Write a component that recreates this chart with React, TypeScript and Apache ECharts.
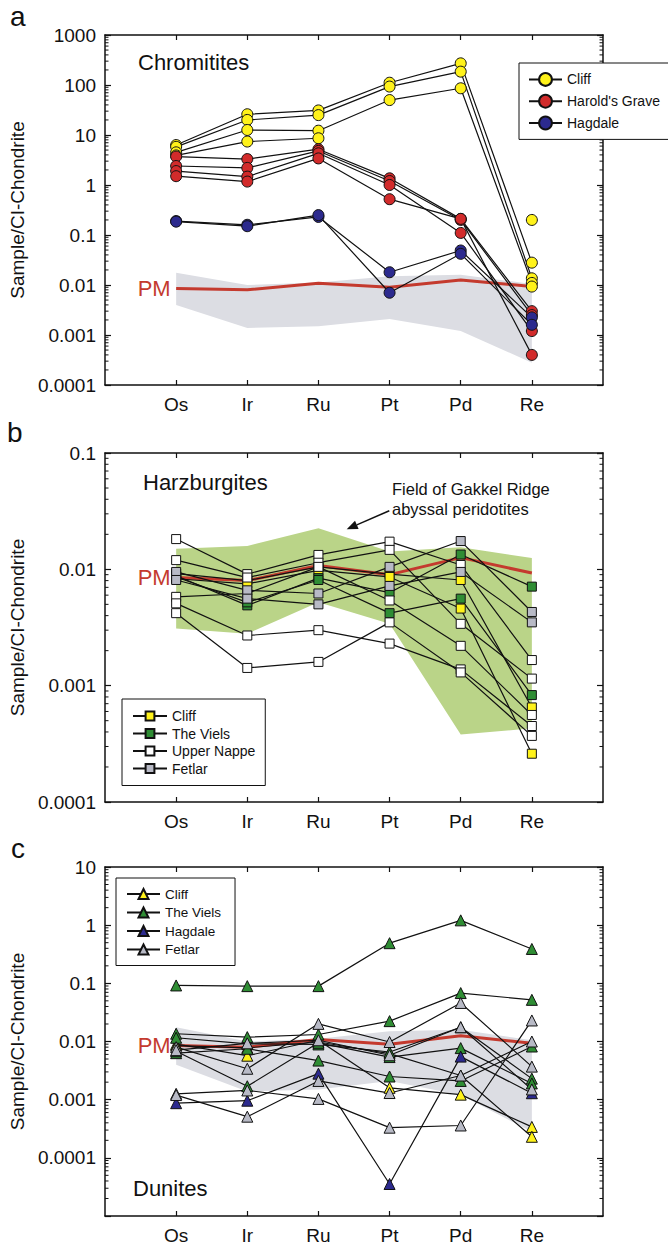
import React, { useEffect, useRef } from "react";
import * as echarts from "echarts";

// ---------- data ----------
const elements = ["Os", "Ir", "Ru", "Pt", "Pd", "Re"];
const elementPositions = [1, 2, 3, 4, 5, 6];

const pmValues = [0.0085, 0.008, 0.0108, 0.009, 0.0126, 0.0093];
const pmFieldUpper = [0.0175, 0.0100, 0.0112, 0.0150, 0.0160, 0.0105];
const pmFieldLower = [0.0040, 0.00138, 0.0015, 0.0021, 0.0012, 0.00028];
const gakkelUpper = [0.015, 0.0159, 0.0225, 0.0142, 0.0155, 0.0125];
const gakkelLower = [0.0031, 0.0028, 0.0052, 0.0034, 0.00038, 0.00043];

const tickLabelsA = ["0.0001", "0.001", "0.01", "0.1", "1", "10", "100", "1000"];
const tickLabelsB = ["0.0001", "0.001", "0.01", "0.1"];
const tickLabelsC = ["", "0.0001", "0.001", "0.01", "0.1", "1", "10"];
const minorMultipliers = [2, 3, 4, 5, 6, 7, 8, 9];

// Chromitites
const chromCliff = [
  [6.3, 26, 31, 111, 271, 0.028],
  [5.8, 20, 25, 93, 185, 0.0136],
  [4.5, 12.6, 12.2, 50, 86, 0.011],
  [3.9, 7.4, 8.6, null, null, 0.0093],
  [null, null, null, null, null, 0.2],
];
const chromHarolds = [
  [3.7, 3.3, 5.2, 1.36, 0.21, 0.003],
  [2.4, 2.2, 4.8, 1.2, 0.2, 0.0025],
  [1.9, 1.47, 4.3, 1.0, 0.11, 0.0012],
  [1.5, 1.17, 3.4, 0.52, 0.21, 0.0004],
];
const chromHagdale = [
  [0.19, 0.16, 0.23, 0.018, 0.049, 0.00225],
  [0.185, 0.15, 0.25, 0.007, 0.042, 0.0016],
];

// Harzburgites
const harzCliff = [
  [0.0092, 0.008, 0.0105, 0.0091, 0.0081, 0.00065],
  [0.0083, 0.0075, 0.0098, 0.0086, 0.0046, 0.00026],
];
const harzViels = [
  [0.0088, 0.0049, 0.0084, 0.0063, 0.0134, 0.0071],
  [0.0086, 0.0052, 0.0081, 0.0042, 0.0056, 0.00083],
];
const harzUpperNappe = [
  [0.0182, 0.0091, 0.0133, 0.0173, 0.0109, 0.00166],
  [0.012, 0.0085, 0.0114, 0.0147, 0.0034, 0.00115],
  [0.0058, 0.0062, 0.0105, 0.0054, 0.0022, 0.00056],
  [0.0051, 0.0027, 0.003, 0.0023, 0.00138, 0.00045],
  [0.0042, 0.00142, 0.0016, 0.0035, 0.0013, 0.00037],
];
const harzFetlar = [
  [0.0095, 0.0066, 0.0062, 0.0105, 0.0175, 0.0043],
  [0.0081, 0.0056, 0.005, 0.0072, 0.0095, 0.0035],
];

// Dunites
const dunCliff = [
  [0.009, 0.0057, 0.0105, 0.0016, 0.00122, 0.00034],
  [0.0085, 0.0078, 0.0098, 0.0062, 0.0026, 0.00023],
];
const dunViels = [
  [0.092, 0.0895, 0.0895, 0.49, 1.21, 0.39],
  [0.0136, 0.0119, 0.0132, 0.0224, 0.068, 0.052],
  [0.0116, 0.0091, 0.0089, 0.0066, 0.0176, 0.0023],
  [0.0063, 0.0075, 0.0047, 0.0025, 0.0021, 0.0082],
  [0.0068, 0.0017, 0.0095, 0.0054, 0.0077, 0.0019],
];
const dunHagdale = [[0.00087, 0.00096, 0.0028, 0.0000355, 0.0055, 0.00129]];
const dunFetlar = [
  [0.008, 0.0034, 0.0201, 0.0098, 0.046, 0.0037],
  [0.00126, 0.00144, 0.00103, 0.00033, 0.00036, 0.023],
  [0.0012, 0.00051, 0.0021, 0.0013, 0.0026, 0.01],
  [0.0071, 0.0093, 0.0105, 0.0058, 0.0176, 0.0015],
];

// ---------- styles ----------
const FONT = '"Liberation Sans", Arial, Helvetica, sans-serif';
const C = {
  yellow: "#fff21a",
  red: "#d22b2b",
  blue: "#2c2a8e",
  green: "#2f8d34",
  gray: "#b8bac6",
  white: "#ffffff",
  pm: "#c43a2e",
  pmField: "#dcdde3",
  gakkel: "#bad488",
};

const grids = [
  { left: 104, top: 35, width: 499, height: 350 },
  { left: 104, top: 453, width: 499, height: 349 },
  { left: 104, top: 867, width: 499, height: 349 },
];

const panels = [
  {
    key: "a",
    minExp: -4,
    maxExp: 3,
    labels: tickLabelsA,
    fieldUpper: pmFieldUpper,
    fieldLower: pmFieldLower,
    fieldColor: C.pmField,
    groups: [
      { name: "Cliff", samples: chromCliff, symbol: "circle", size: 11, fill: C.yellow },
      { name: "Harold's Grave", samples: chromHarolds, symbol: "circle", size: 11, fill: C.red },
      { name: "Hagdale", samples: chromHagdale, symbol: "circle", size: 11, fill: C.blue },
    ],
  },
  {
    key: "b",
    minExp: -4,
    maxExp: -1,
    labels: tickLabelsB,
    fieldUpper: gakkelUpper,
    fieldLower: gakkelLower,
    fieldColor: C.gakkel,
    groups: [
      { name: "Cliff", samples: harzCliff, symbol: "rect", size: 9, fill: C.yellow },
      { name: "The Viels", samples: harzViels, symbol: "rect", size: 9, fill: C.green },
      { name: "Upper Nappe", samples: harzUpperNappe, symbol: "rect", size: 9, fill: C.white },
      { name: "Fetlar", samples: harzFetlar, symbol: "rect", size: 9, fill: C.gray },
    ],
  },
  {
    key: "c",
    minExp: -5,
    maxExp: 1,
    labels: tickLabelsC,
    fieldUpper: pmFieldUpper,
    fieldLower: pmFieldLower,
    fieldColor: C.pmField,
    groups: [
      { name: "Cliff", samples: dunCliff, symbol: "triangle", size: 11, fill: C.yellow },
      { name: "The Viels", samples: dunViels, symbol: "triangle", size: 11, fill: C.green },
      { name: "Hagdale", samples: dunHagdale, symbol: "triangle", size: 11, fill: C.blue },
      { name: "Fetlar", samples: dunFetlar, symbol: "triangle", size: 11, fill: C.gray },
    ],
  },
];

const legendLayouts = [
  { left: 519, top: 63, itemHeight: 16, itemGap: 7, itemWidth: 33, fontSize: 14, padding: [9, 10, 9, 9] },
  { left: 122, top: 699, itemHeight: 11, itemGap: 3.5, itemWidth: 34, fontSize: 14, padding: [10, 10, 10, 10] },
  { left: 116, top: 878, itemHeight: 12.5, itemGap: 4.5, itemWidth: 33, fontSize: 13.5, padding: [9, 14, 9, 10] },
];

function buildOption() {
  const xAxis: any[] = [];
  const yAxis: any[] = [];
  const series: any[] = [];
  const legend: any[] = [];

  panels.forEach((p, g) => {
    const axisLineStyle = { color: "#111", width: 1.5 };
    xAxis.push({
      type: "value",
      gridIndex: g,
      min: 0,
      max: 7,
      interval: 1,
      position: "bottom",
      axisLine: { show: true, onZero: false, lineStyle: axisLineStyle },
      axisTick: { show: true, inside: true, length: 5, customValues: elementPositions, lineStyle: { color: "#111", width: 1.2 } },
      axisLabel: {
        show: true,
        customValues: elementPositions,
        formatter: (v: number) => elements[Math.round(v) - 1] ?? "",
        fontSize: 19,
        fontFamily: FONT,
        color: "#111",
        margin: 10,
      },
      splitLine: { show: false },
    });
    xAxis.push({
      type: "value",
      gridIndex: g,
      min: 0,
      max: 7,
      interval: 1,
      position: "top",
      axisLine: { show: true, onZero: false, lineStyle: axisLineStyle },
      axisTick: { show: true, inside: true, length: 5, customValues: elementPositions, lineStyle: { color: "#111", width: 1.2 } },
      axisLabel: { show: false },
      splitLine: { show: false },
    });
    const logCommon = {
      type: "log",
      logBase: 10,
      gridIndex: g,
      min: Math.pow(10, p.minExp),
      max: Math.pow(10, p.maxExp),
      interval: 1,
      splitLine: { show: false },
      axisLine: { show: true, onZero: false, lineStyle: axisLineStyle },
      axisTick: { show: true, inside: true, length: 6, lineStyle: { color: "#111", width: 1.2 } },
      minorTick: { show: false },
    };
    yAxis.push({
      ...logCommon,
      position: "left",
      name: "Sample/CI-Chondrite",
      nameLocation: "middle",
      nameGap: 74,
      nameTextStyle: { fontSize: 19, fontFamily: FONT, color: "#111" },
      axisLabel: {
        fontSize: 19,
        fontFamily: FONT,
        color: "#111",
        margin: 9,
        formatter: (v: number) => p.labels[Math.round(Math.log10(v)) - p.minExp] ?? "",
      },
    });
    yAxis.push({
      ...logCommon,
      position: "right",
      axisLabel: { show: false },
    });

    const xi = g * 2;
    const yi = g * 2;

    // shaded field
    series.push({
      type: "custom",
      xAxisIndex: xi,
      yAxisIndex: yi,
      silent: true,
      z: 1,
      data: [[elementPositions[0], p.fieldUpper[0]]],
      renderItem: (_params: any, api: any) => {
        const pts: number[][] = [];
        elementPositions.forEach((x, i) => pts.push(api.coord([x, p.fieldUpper[i]])));
        for (let i = elementPositions.length - 1; i >= 0; i--) {
          pts.push(api.coord([elementPositions[i], p.fieldLower[i]]));
        }
        return { type: "polygon", shape: { points: pts }, style: { fill: p.fieldColor } };
      },
    });

    // minor log ticks on left and right frame
    const minorVals: number[] = [];
    for (let e = p.minExp; e < p.maxExp; e++) {
      minorMultipliers.forEach((m) => minorVals.push(m * Math.pow(10, e)));
    }
    series.push({
      type: "custom",
      xAxisIndex: xi,
      yAxisIndex: yi,
      silent: true,
      z: 1,
      clip: false,
      data: minorVals.map((v) => [0, v]),
      renderItem: (_params: any, api: any) => {
        const v = api.value(1);
        const l = api.coord([0, v]);
        const r = api.coord([7, v]);
        return {
          type: "group",
          children: [
            { type: "line", shape: { x1: l[0], y1: l[1], x2: l[0] + 3.5, y2: l[1] }, style: { stroke: "#111", lineWidth: 1 } },
            { type: "line", shape: { x1: r[0], y1: r[1], x2: r[0] - 3.5, y2: r[1] }, style: { stroke: "#111", lineWidth: 1 } },
          ],
        };
      },
    });

    // PM line
    series.push({
      type: "line",
      xAxisIndex: xi,
      yAxisIndex: yi,
      z: 2,
      silent: true,
      symbol: "circle",
      symbolSize: 1,
      showSymbol: true,
      itemStyle: { color: "rgba(0,0,0,0)" },
      lineStyle: { color: C.pm, width: 3 },
      data: pmValues.map((v, i) =>
        i === 0
          ? {
              value: [elementPositions[i], v],
              label: {
                show: true,
                position: "left",
                distance: 5,
                formatter: "PM",
                fontSize: 22,
                fontFamily: FONT,
                color: C.pm,
              },
            }
          : [elementPositions[i], v]
      ),
    });

    // samples
    p.groups.forEach((grp) => {
      grp.samples.forEach((vals) => {
        series.push({
          type: "line",
          name: `${p.key}|${grp.name}`,
          xAxisIndex: xi,
          yAxisIndex: yi,
          z: 3,
          symbol: grp.symbol,
          symbolSize: grp.size,
          showSymbol: true,
          connectNulls: false,
          lineStyle: { color: "#111", width: 1.2 },
          itemStyle: { color: grp.fill, borderColor: "#111", borderWidth: 1 },
          emphasis: { disabled: true },
          data: vals.map((v, i) => [elementPositions[i], v == null ? "-" : v]),
        });
      });
    });

    const L = legendLayouts[g];
    legend.push({
      show: true,
      orient: "vertical",
      left: L.left,
      top: L.top,
      z: 10,
      itemWidth: L.itemWidth,
      itemHeight: L.itemHeight,
      itemGap: L.itemGap,
      padding: L.padding,
      borderColor: "#111",
      borderWidth: 1,
      backgroundColor: "#fff",
      selectedMode: false,
      data: p.groups.map((grp) => `${p.key}|${grp.name}`),
      formatter: (name: string) => name.split("|")[1],
      textStyle: { fontSize: L.fontSize, fontFamily: FONT, color: "#111" },
    });
  });

  const textStyle = (fontSize: number) => ({ fontSize, fontFamily: FONT, fill: "#111" });

  const graphic: any[] = [
    { type: "text", left: 10, top: 2, style: { text: "a", ...textStyle(28) } },
    { type: "text", left: 7, top: 418, style: { text: "b", ...textStyle(28) } },
    { type: "text", left: 11, top: 834, style: { text: "c", ...textStyle(28) } },
    { type: "text", x: 138, y: 62.5, style: { text: "Chromitites", ...textStyle(22), verticalAlign: "middle" } },
    { type: "text", x: 143, y: 482.5, style: { text: "Harzburgites", ...textStyle(22), verticalAlign: "middle" } },
    { type: "text", x: 133, y: 1188, style: { text: "Dunites", ...textStyle(22), verticalAlign: "middle" } },
    {
      type: "text",
      x: 392,
      y: 499,
      style: { text: "Field of Gakkel Ridge\nabyssal peridotites", ...textStyle(16.5), lineHeight: 19.5, verticalAlign: "middle" },
    },
    { type: "line", shape: { x1: 389.3, y1: 510.7, x2: 356.8, y2: 524.9 }, style: { stroke: "#111", lineWidth: 1.5 } },
    {
      type: "polygon",
      shape: { points: [[346.7, 529.3], [358.6, 529.0], [355.0, 520.8]] },
      style: { fill: "#111" },
    },
  ];

  return {
    animation: false,
    backgroundColor: "#fff",
    grid: grids,
    xAxis,
    yAxis,
    series,
    legend,
    graphic,
  };
}

export default function App() {
  const ref = useRef<HTMLDivElement>(null);
  useEffect(() => {
    document.body.style.margin = "0";
    if (!ref.current) return;
    const chart = echarts.init(ref.current, undefined, { renderer: "svg" });
    chart.setOption(buildOption() as any);
    return () => chart.dispose();
  }, []);
  return <div ref={ref} style={{ width: 668, height: 1245 }} />;
}
